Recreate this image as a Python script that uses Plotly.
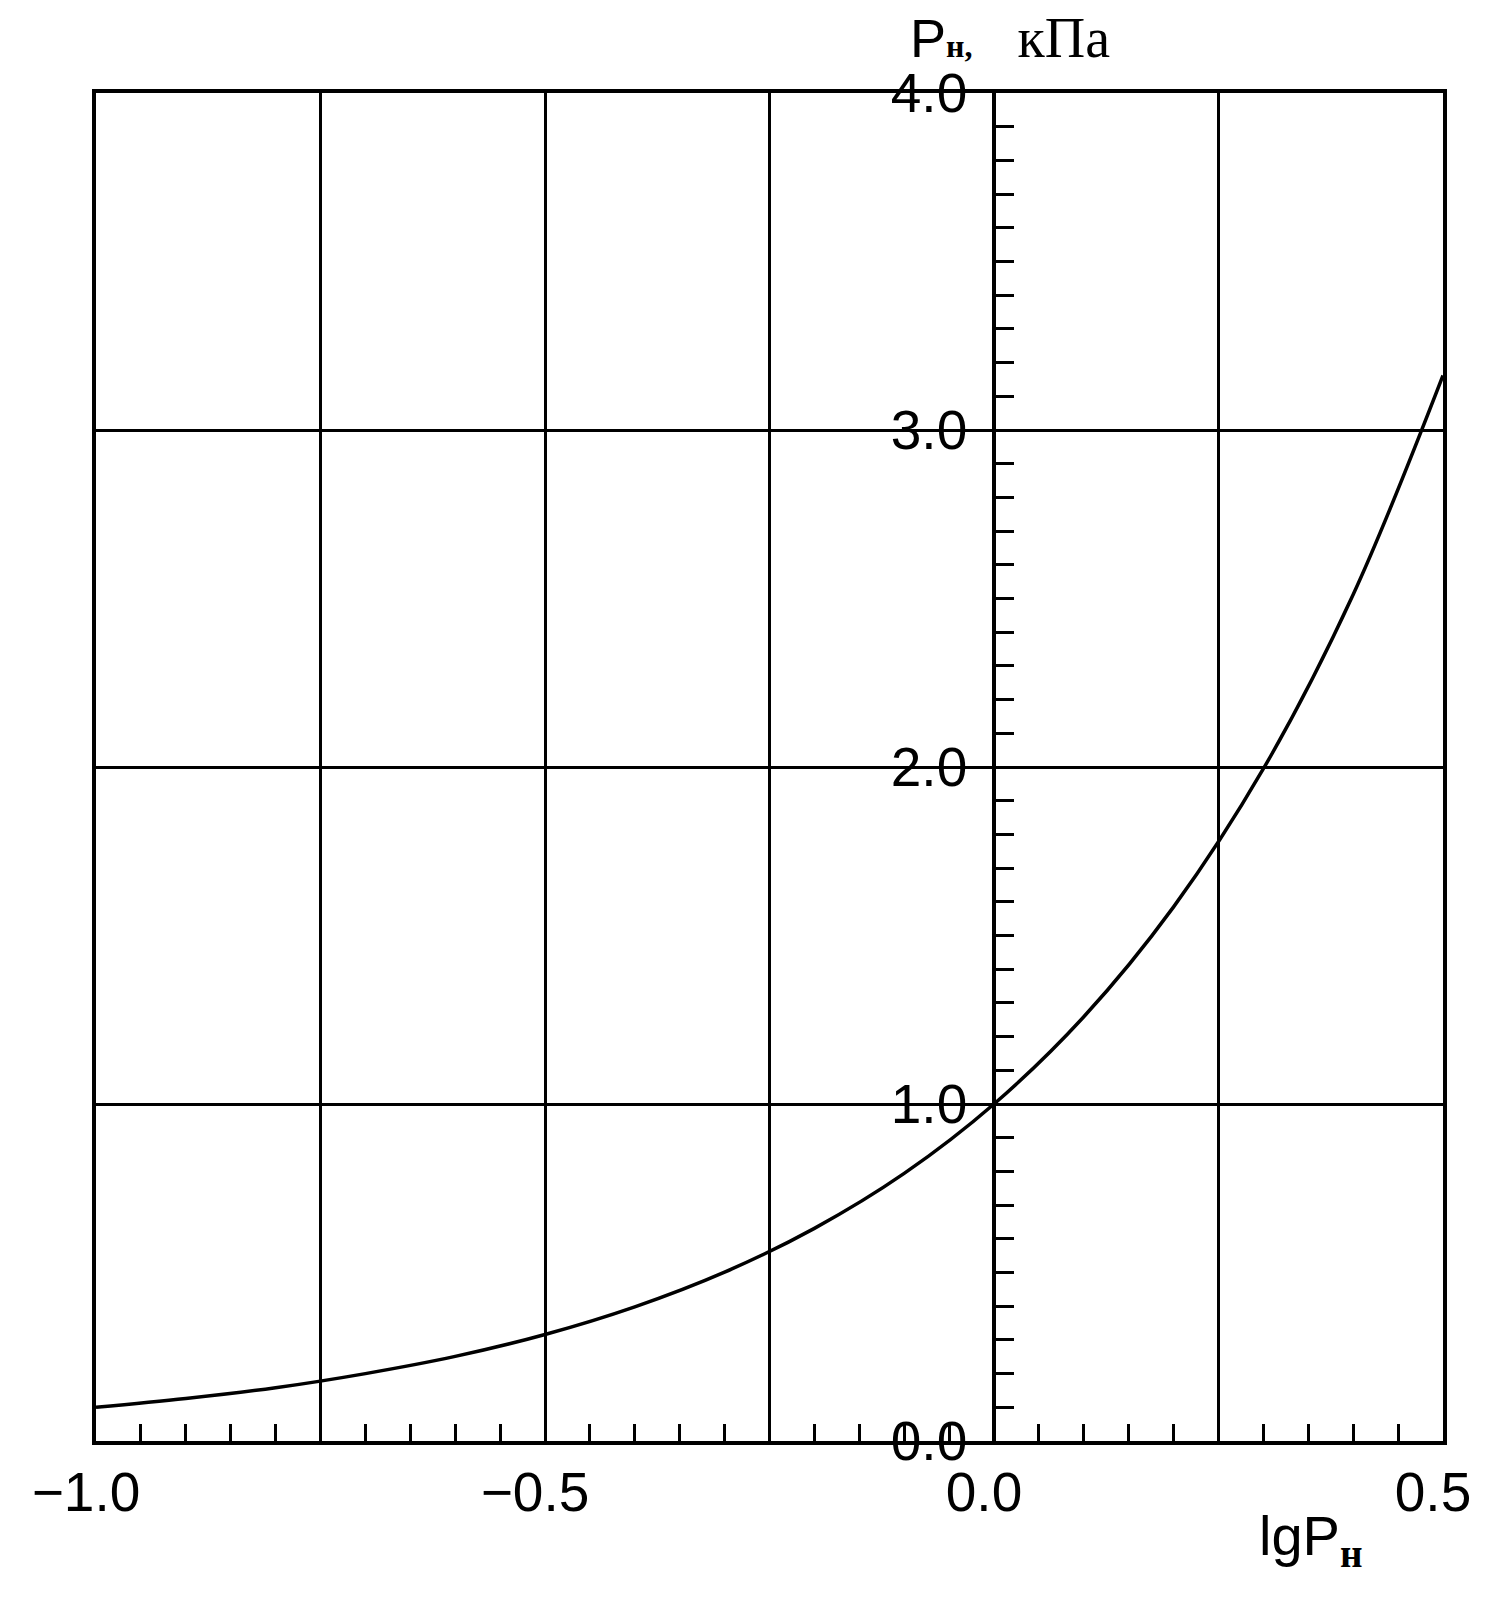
import plotly.graph_objects as go

# Readings from the chart: lgP (x) vs P, kPa (y)
lg_p = [-1.0, -0.9, -0.8, -0.7, -0.6, -0.5, -0.4, -0.3, -0.2, -0.1,
        0.0, 0.1, 0.2, 0.3, 0.4, 0.5]
p_kpa = [0.100, 0.126, 0.158, 0.200, 0.251, 0.316, 0.398, 0.501, 0.631, 0.794,
         1.000, 1.259, 1.585, 1.995, 2.512, 3.162]

x_tickvals = [-1.0, -0.75, -0.5, -0.25, 0.0, 0.25, 0.5]
x_ticktext = ["\u22121.0", "", "\u22120.5", "", "0.0", "", "0.5"]
y_tickvals = [0.0, 1.0, 2.0, 3.0, 4.0]
y_ticktext = ["0.0", "1.0", "2.0", "3.0", "4.0"]

FONT = "Liberation Sans, Arial, sans-serif"
BLACK = "#000000"

fig = go.Figure()
fig.add_trace(go.Scatter(x=lg_p, y=p_kpa, mode="lines",
                         line=dict(color=BLACK, width=3.5, shape="spline", smoothing=1),
                         showlegend=False, hoverinfo="skip"))

fig.update_layout(
    width=1499, height=1624,
    margin=dict(l=96, r=56, t=93, b=183),
    paper_bgcolor="white", plot_bgcolor="white",
    font=dict(family=FONT, color=BLACK, size=54),
    xaxis=dict(range=[-1.0, 0.5], tickvals=x_tickvals, ticktext=x_ticktext,
               showgrid=True, gridcolor=BLACK, gridwidth=3,
               showline=True, linecolor=BLACK, linewidth=4, mirror=True,
               ticks="inside", ticklen=17, tickwidth=3, tickcolor=BLACK,
               minor=dict(dtick=0.05, tick0=0, ticks="inside", ticklen=17,
                          tickwidth=3, tickcolor=BLACK, showgrid=False),
               zeroline=False, ticklabelstandoff=0, ticklabelshift=-10,
               tickfont=dict(size=55, family=FONT)),
    yaxis=dict(range=[0, 4.0], tickvals=y_tickvals, showticklabels=False,
               showgrid=True, gridcolor=BLACK, gridwidth=3,
               showline=True, linecolor=BLACK, linewidth=4, mirror=True,
               ticks="", zeroline=False),
    yaxis2=dict(range=[0, 4.0], overlaying="y", anchor="free",
                position=1.0 / 1.5, side="left",
                tickvals=y_tickvals, ticktext=y_ticktext,
                showgrid=False, zeroline=False,
                showline=True, linecolor=BLACK, linewidth=3.5,
                ticks="inside", ticklen=18, tickwidth=3, tickcolor=BLACK,
                minor=dict(dtick=0.1, tick0=0, ticks="inside", ticklen=18,
                           tickwidth=3, tickcolor=BLACK, showgrid=False),
                ticklabelstandoff=14,
                tickfont=dict(size=55, family=FONT)),
)

# invisible trace to activate yaxis2
fig.add_trace(go.Scatter(x=[None], y=[None], yaxis="y2", showlegend=False,
                         hoverinfo="skip"))

fig.add_annotation(
    xref="paper", yref="paper", x=0.603, y=1.041, xanchor="left", yanchor="middle",
    showarrow=False,
    text="P<b><span style='font-family:Liberation Serif;font-size:32px'>н,</span></b>"
         "\u00a0\u00a0\u00a0<span style='font-family:Liberation Serif;font-size:56px'>кПа</span>",
    font=dict(size=54, family=FONT, color=BLACK))

fig.add_annotation(
    xref="paper", yref="paper", x=0.862, y=-0.073, xanchor="left", yanchor="middle",
    showarrow=False,
    text="lgP<sub><b><span style='font-family:Liberation Serif'>н</span></b></sub>",
    font=dict(size=56, family=FONT, color=BLACK))

fig.write_html("out.html")
